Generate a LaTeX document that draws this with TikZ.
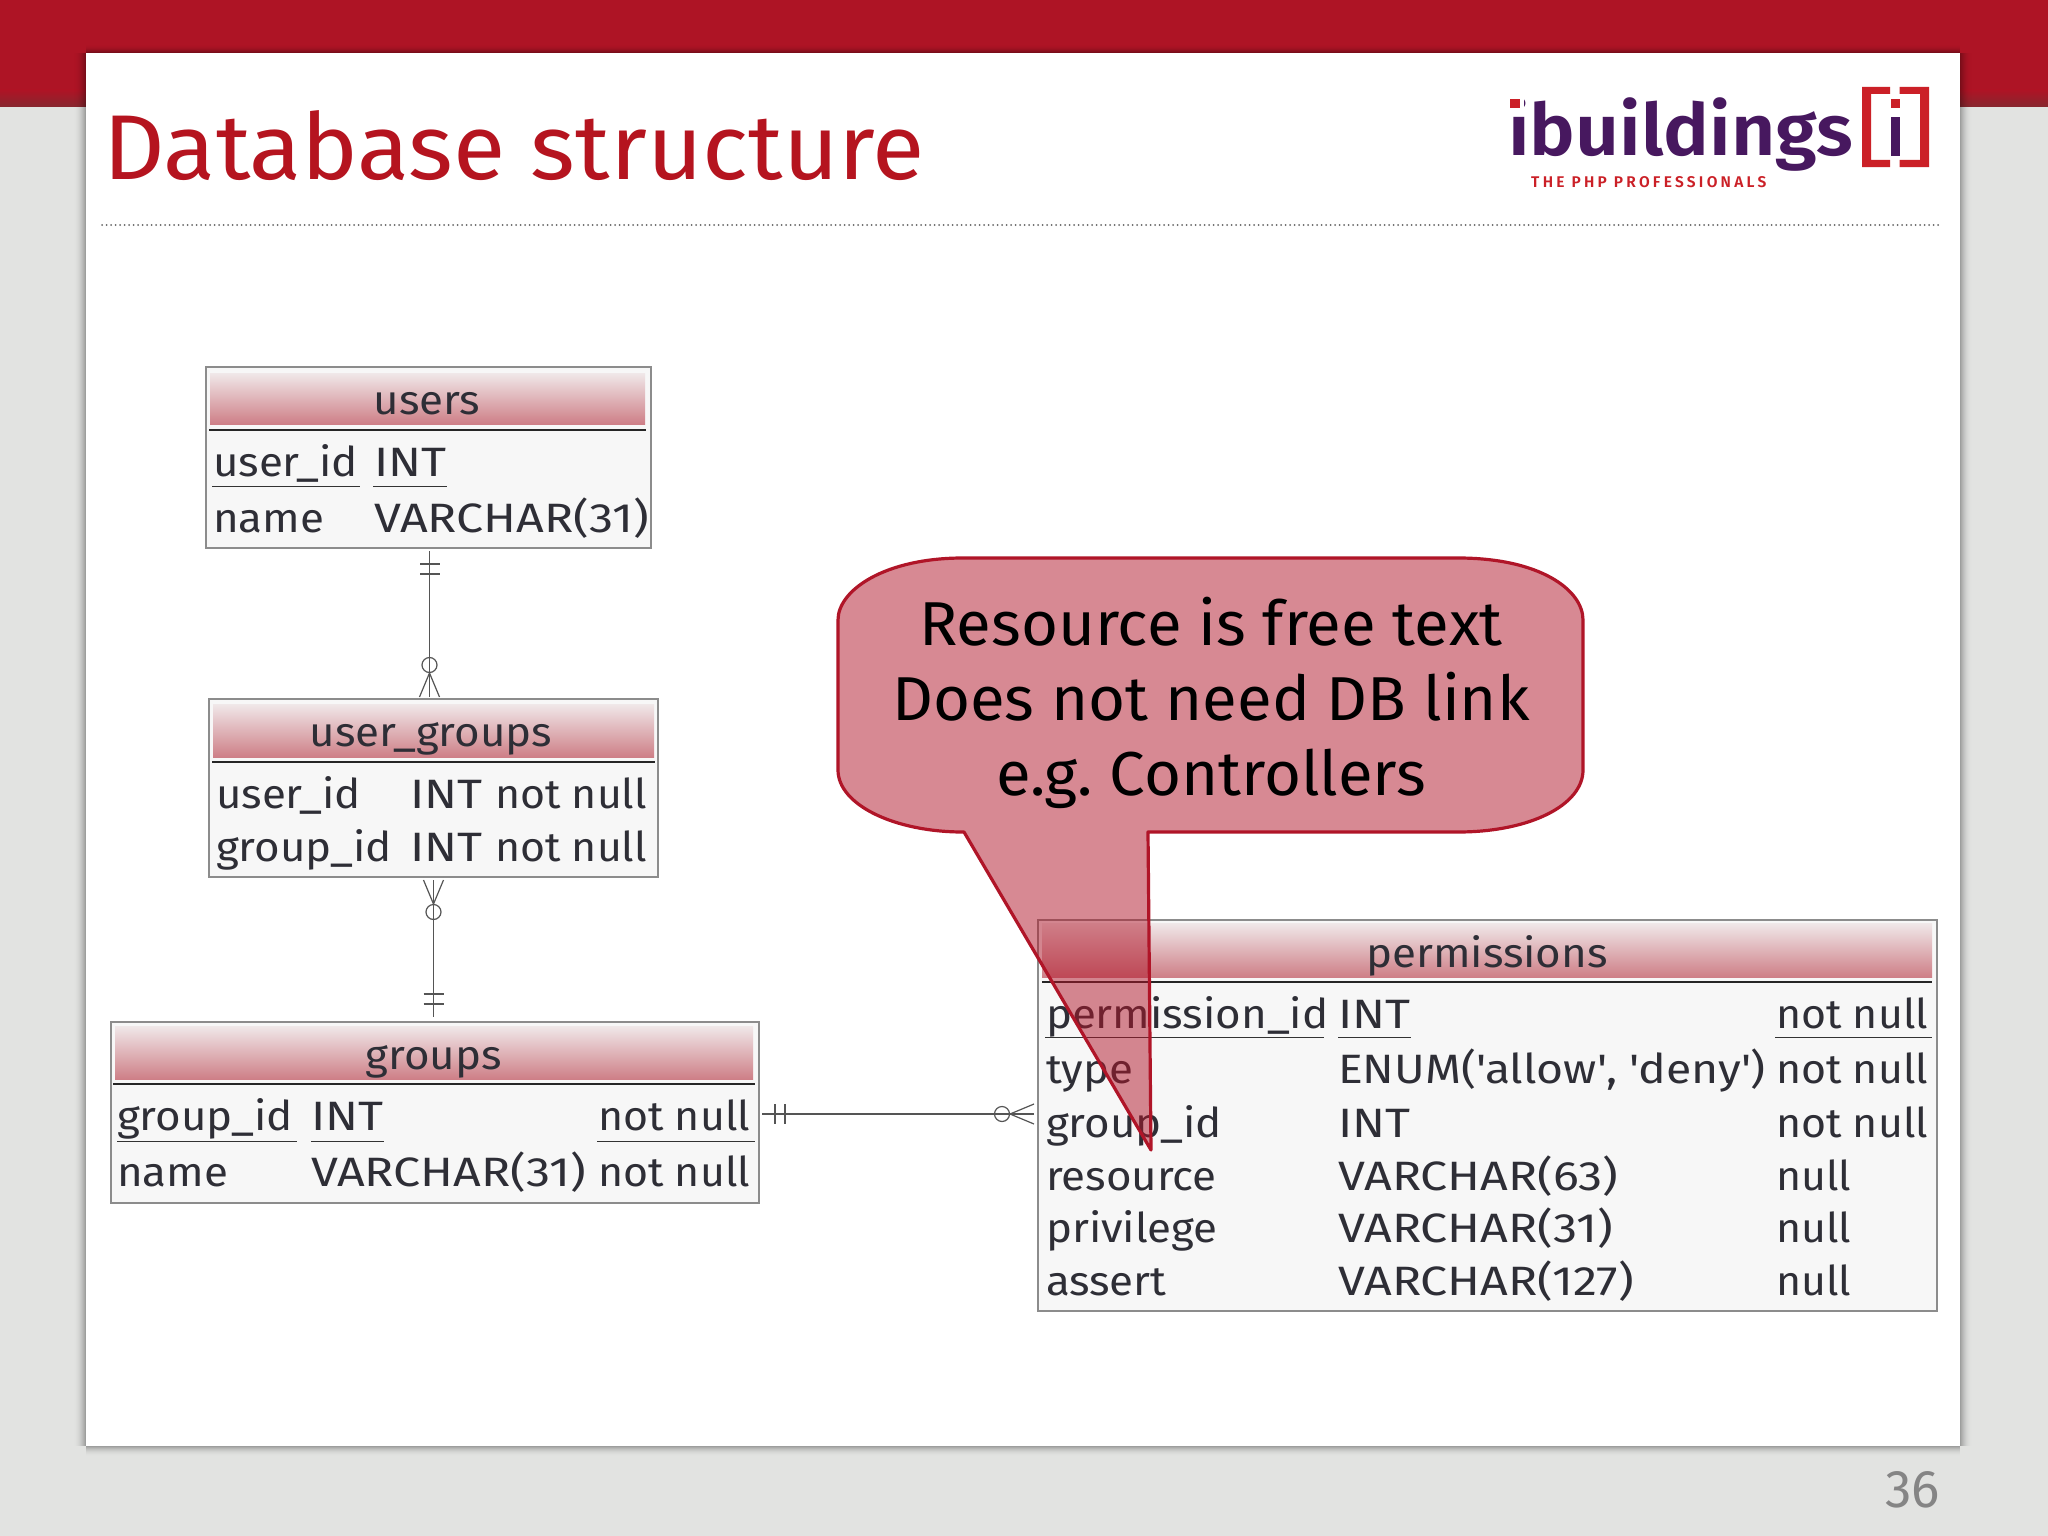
\documentclass[tikz,border=0pt]{standalone}
\usepackage{fontspec}
\setmainfont{Fira Sans}
\newfontfamily\logofont[FakeStretch=1.065]{Fira Sans SemiBold}
\newfontfamily\tagfont[LetterSpace=21]{Fira Sans SemiBold}
\newfontfamily\idfont[FakeStretch=1.07]{Fira Sans}
\newfontfamily\nnfont[FakeStretch=1.045]{Fira Sans}
\newfontfamily\capfont[FakeStretch=1.18]{Fira Sans}
\newfontfamily\enumfont[FakeStretch=1.13]{Fira Sans}
\newfontfamily\titlefont[FakeStretch=1.04]{Fira Sans}
\newfontfamily\callfont[FakeStretch=1.025]{Fira Sans}
\usetikzlibrary{calc}
\definecolor{bgcol}{HTML}{E2E3E1}
\definecolor{bandred}{HTML}{AE1425}
\definecolor{banddark}{HTML}{86272F}
\definecolor{titlered}{HTML}{B5141F}
\definecolor{tabfill}{HTML}{F7F7F7}
\definecolor{tabline}{HTML}{8C8C8C}
\definecolor{ink}{HTML}{2E2E36}
\definecolor{connink}{HTML}{555555}
\definecolor{headtop}{HTML}{F0E8E9}
\definecolor{headbot}{HTML}{CE7F87}
\definecolor{callred}{HTML}{B01528}
\definecolor{logopurple}{HTML}{47185F}
\definecolor{logored}{HTML}{CB2027}
\definecolor{numgray}{HTML}{858585}
\tikzset{
  x=1pt,y=-1pt,
  tablebox/.style={draw=tabline,fill=tabfill,line width=1.4pt,inner sep=0pt,outer sep=0pt},
  headshade/.style={top color=headtop,bottom color=headbot,draw=none},
  headrule/.style={draw=black!85,line width=1.4pt},
  urule/.style={draw=black!80,line width=1pt},
  cell/.style={anchor=base west,inner sep=0pt,outer sep=0pt,text=ink,font=\fontsize{41}{41}\idfont},
  nncell/.style={cell,font=\fontsize{41}{41}\nnfont},
  capcell/.style={cell,font=\fontsize{41}{41}\capfont},
  enumcell/.style={cell,font=\fontsize{41}{41}\enumfont},
  headcell/.style={anchor=base,inner sep=0pt,outer sep=0pt,text=ink,font=\fontsize{41}{41}\idfont},
  calltext/.style={anchor=base,inner sep=0pt,text=black,font=\fontsize{62}{62}\callfont},
  conn/.style={draw=connink,line width=1.2pt},
  onemark/.pic={
    \draw[conn] (13,-10) -- (13,10);
    \draw[conn] (23,-10) -- (23,10);
  },
  manymark/.pic={
    \draw[conn] (0,-10) -- (24,0) -- (0,10);
    \draw[conn] (0,0) -- (24,0);
    \draw[conn] (32,0) circle[radius=7.5];
  },
}
\begin{document}
\begin{tikzpicture}
\useasboundingbox (0,0) rectangle (2048,1536);
% background and band
\fill[bgcol] (0,0) rectangle (2048,1536);
\fill[bandred] (0,0) rectangle (2048,90);
\shade[top color=bandred,bottom color=banddark] (0,90) rectangle (2048,107);
% sheet shadow, in strips that grow darker towards the sheet
\foreach \k in {1,...,12}{
  \pgfmathsetmacro\shop{0.3*\k*\k/144}
  \fill[black,fill opacity=\shop] (73+\k,53) rectangle (74+\k,1446);
  \fill[black,fill opacity=\shop] (1973-\k,53) rectangle (1972-\k,1446);
}
\foreach \k in {1,...,8}{
  \pgfmathsetmacro\shop{0.3*\k*\k/64}
  \fill[black,fill opacity=\shop] (86,44+\k) rectangle (1960,45+\k);
}
\foreach \k in {1,...,10}{
  \pgfmathsetmacro\shop{0.3*\k*\k/100}
  \fill[black,fill opacity=\shop] (86,1457-\k) rectangle (1960,1456-\k);
}
\fill[white] (86,53) rectangle (1960,1446);
% title
\node[anchor=base west,inner sep=0pt,text=titlered,font=\fontsize{92}{92}\titlefont] (title) at (103,179) {Database structure};
\draw[black!60,line width=2pt,line cap=round,dash pattern=on 0pt off 4.5pt] (102,225) -- (1940,225);
\node[anchor=base east,inner sep=0pt,text=numgray,font=\fontsize{53}{53}\selectfont] (pageno) at (1940,1507) {36};
% logo
\node[anchor=base west,inner sep=0pt,text=logopurple,font=\fontsize{72}{72}\logofont] (logo) at (1508,156) {ibuildings};
\fill[white] (1505,92) rectangle (1524,113);
\fill[logored] (1510,99) rectangle (1519.5,108);
\node[anchor=base west,inner sep=0pt,text=logored,font=\fontsize{15.5}{15.5}\tagfont] (tag) at (1531,187) {THE PHP PROFESSIONALS};
\fill[logored] (1890,87) -- (1862,87) -- (1862,167) -- (1890,167) -- (1890,160) -- (1871,160) -- (1871,94) -- (1890,94) -- cycle;
\fill[logored] (1899.5,87) -- (1929,87) -- (1929,167) -- (1899.5,167) -- (1899.5,160) -- (1920,160) -- (1920,94) -- (1899.5,94) -- cycle;
\fill[logored] (1890.5,99) rectangle (1899.5,108);
\fill[logopurple] (1890.5,117) rectangle (1899.5,156);
% users
\node[tablebox,minimum width=445pt,minimum height=181pt] (users) at (428.5,457.5) {};
\shade[headshade] (210,373) rectangle (645,424);
\draw[headrule] (209,430) -- (646,430);
\node[headcell] (usersT) at (427,414) {users};
\node[cell] (u1) at (213,476) {user\_id};
\node[capcell] (u2) at (374,476) {INT};
\node[cell] (u3) at (213,532) {name};
\node[capcell] (u4) at (374,532) {VARCHAR(31)};
\draw[urule] (212,486) -- (360,486);
\draw[urule] (373,486) -- (447,486);
% user_groups
\node[tablebox,minimum width=449pt,minimum height=178pt] (ugroups) at (433.5,788) {};
\shade[headshade] (213,704) rectangle (654,757);
\draw[headrule] (212,762) -- (655,762);
\node[headcell] (ugT) at (431,746) {user\_groups};
\node[cell] (g1) at (216,808) {user\_id};
\node[capcell] (g2) at (410,808) {INT};
\node[nncell] (g3) at (495,808) {not null};
\node[cell] (g4) at (216,861) {group\_id};
\node[capcell] (g5) at (410,861) {INT};
\node[nncell] (g6) at (495,861) {not null};
% groups
\node[tablebox,minimum width=648pt,minimum height=181pt] (groups) at (435,1112.5) {};
\shade[headshade] (115,1026) rectangle (753,1079);
\draw[headrule] (113,1084) -- (755,1084);
\node[headcell] (grT) at (434,1069) {groups};
\node[cell] (r1) at (117,1130) {group\_id};
\node[capcell] (r2) at (311,1130) {INT};
\node[nncell] (r3) at (598,1130) {not null};
\node[cell] (r4) at (117,1186) {name};
\node[capcell] (r5) at (311,1186) {VARCHAR(31)};
\node[nncell] (r6) at (598,1186) {not null};
\draw[urule] (117,1141) -- (297,1141);
\draw[urule] (311,1141) -- (384,1141);
\draw[urule] (597,1141) -- (755,1141);
% permissions
\node[tablebox,minimum width=899pt,minimum height=391pt] (perm) at (1487.5,1115.5) {};
\shade[headshade] (1042,923) rectangle (1932,977);
\draw[headrule] (1042,982) -- (1932,982);
\node[headcell] (pT) at (1487,967) {permissions};
\node[cell] (p1a) at (1046,1028) {permission\_id};
\node[capcell] (p1b) at (1338,1028) {INT};
\node[nncell] (p1c) at (1776,1028) {not null};
\node[cell] (p2a) at (1046,1083) {type};
\node[enumcell] (p2b) at (1338,1083) {ENUM(\textquotesingle allow\textquotesingle, \textquotesingle deny\textquotesingle)};
\node[nncell] (p2c) at (1776,1083) {not null};
\node[cell] (p3a) at (1046,1137) {group\_id};
\node[capcell] (p3b) at (1338,1137) {INT};
\node[nncell] (p3c) at (1776,1137) {not null};
\node[cell] (p4a) at (1046,1190) {resource};
\node[capcell] (p4b) at (1338,1190) {VARCHAR(63)};
\node[nncell] (p4c) at (1776,1190) {null};
\node[cell] (p5a) at (1046,1242) {privilege};
\node[capcell] (p5b) at (1338,1242) {VARCHAR(31)};
\node[nncell] (p5c) at (1776,1242) {null};
\node[cell] (p6a) at (1046,1295) {assert};
\node[capcell] (p6b) at (1338,1295) {VARCHAR(127)};
\node[nncell] (p6c) at (1776,1295) {null};
\draw[urule] (1045,1037) -- (1324,1037);
\draw[urule] (1338,1037) -- (1411,1037);
\draw[urule] (1775,1037) -- (1932,1037);
% connectors
\coordinate (a1) at ($(users.south)+(1,3)$);
\coordinate (a2) at (a1 |- ugroups.north);
\draw[conn] (a1) -- ($(a2)+(0,-2)$);
\pic[rotate=-90] at (a1) {onemark};
\pic[rotate=90] at ($(a2)+(0,-2)$) {manymark};
\coordinate (b1) at ($(ugroups.south)+(0,3)$);
\coordinate (b2) at ($(groups.north)+(-2,-5)$);
\draw[conn] (b1) -- (b1 |- b2);
\pic[rotate=-90] at (b1) {manymark};
\pic[rotate=90] at (b1 |- b2) {onemark};
\coordinate (c1) at ($(groups.east)+(3,1.5)$);
\coordinate (c2) at ($(perm.west |- c1)+(-4,0)$);
\draw[conn] (c1) -- (c2);
\pic at (c1) {onemark};
\pic[rotate=180] at (c2) {manymark};
% callout
\path[fill=callred,fill opacity=0.5,draw=callred,line width=3.2pt,line join=round]
 (963,558) -- (1458,558)
 .. controls (1540,558) and (1583,590) .. (1583,620)
 -- (1583,770)
 .. controls (1583,805) and (1530,832) .. (1458,832)
 -- (1148,832) -- (1151,1150) -- (964,832) -- (963,832)
 .. controls (895,832) and (838,805) .. (838,770)
 -- (838,620)
 .. controls (838,590) and (885,558) .. (963,558) -- cycle;
\node[calltext] (ct1) at (1211,645) {Resource is free text};
\node[calltext] (ct2) at (1211,720) {Does not need DB link};
\node[calltext] (ct3) at (1211,795) {e.g.\ Controllers};
\end{tikzpicture}
\end{document}
